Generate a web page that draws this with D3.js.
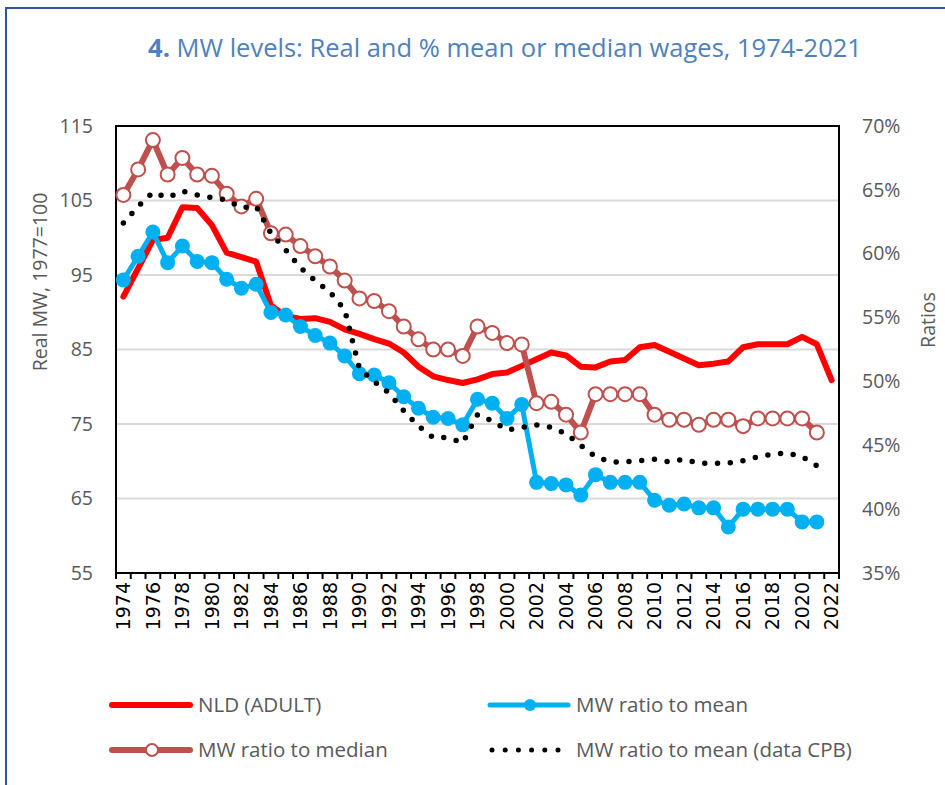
<!doctype html>
<html>
  <head>
    <meta charset="utf-8">
    <title>MW levels</title>
    <script src="https://d3js.org/d3.v7.min.js"></script>
    <style type="text/css">
      body { margin: 0; background-color: #ffffff; }
      text { font-family: "Open Sans", sans-serif; fill: #595959; }
    </style>
  </head>
  <body>
    <script>
      // data
      var years = d3.range(1974, 2023);
      var yearLabels = d3.range(1974, 2023, 2);
      var leftTicks = [55, 65, 75, 85, 95, 105, 115];
      var rightTicks = [35, 40, 45, 50, 55, 60, 65, 70];

      // real MW, 1977=100 (left axis)
      var nld = [92.1, 95.9, 99.7, 100.0, 104.1, 104.0, 101.7, 98.0, 97.4, 96.8,
        90.9, 89.5, 89.1, 89.2, 88.7, 87.7, 87.1, 86.4, 85.8, 84.6,
        82.7, 81.4, 80.9, 80.5, 81.0, 81.7, 81.9, 82.8, 83.7, 84.6,
        84.2, 82.7, 82.6, 83.4, 83.6, 85.3, 85.6, 84.7, 83.8, 82.9,
        83.1, 83.4, 85.3, 85.7, 85.7, 85.7, 86.7, 85.7, 80.9];

      // ratios in % (right axis)
      var toMean = [57.95, 59.8, 61.7, 59.3, 60.6, 59.4, 59.3, 58.0, 57.3, 57.6,
        55.4, 55.2, 54.3, 53.6, 53.0, 52.0, 50.6, 50.5, 49.9, 48.8,
        47.9, 47.2, 47.1, 46.6, 48.6, 48.3, 47.1, 48.2, 42.1, 42.0,
        41.9, 41.1, 42.7, 42.1, 42.1, 42.1, 40.7, 40.3, 40.4, 40.1,
        40.1, 38.6, 40.0, 40.0, 40.0, 40.0, 39.0, 39.0, null];

      var toMedian = [64.6, 66.6, 68.9, 66.2, 67.5, 66.2, 66.1, 64.7, 63.7, 64.3,
        61.6, 61.5, 60.6, 59.8, 59.0, 57.9, 56.5, 56.3, 55.5, 54.3,
        53.3, 52.5, 52.5, 52.0, 54.3, 53.8, 53.0, 52.9, 48.3, 48.4,
        47.4, 46.0, 49.0, 49.0, 49.0, 49.0, 47.4, 47.0, 47.0, 46.6,
        47.0, 47.0, 46.5, 47.1, 47.1, 47.1, 47.1, 46.0, null];

      var toMeanCPB = [62.4, 63.7, 64.8, 64.4, 64.9, 64.6, 64.4, 64.2, 63.6, 63.7,
        61.6, 60.3, 58.9, 57.9, 57.0, 55.6, 51.0, 50.0, 49.1, 47.7,
        46.5, 45.6, 45.6, 45.2, 47.4, 46.9, 46.2, 46.4, 46.6, 46.4,
        45.9, 45.0, 44.1, 43.7, 43.7, 43.8, 43.9, 43.7, 43.9, 43.6,
        43.6, 43.6, 43.8, 44.1, 44.3, 44.4, 44.1, 43.4, null];

      var seriesNames = ["NLD (ADULT)", "MW ratio to mean", "MW ratio to median", "MW ratio to mean (data CPB)"];

      var w = 945, h = 785;
      var pL = 116, pR = 839, pT = 126, pB = 573;

      var svg = d3.select("body").append("svg")
        .attr("width", w)
        .attr("height", h);

      // outer frame
      svg.append("rect")
        .attr("x", 6).attr("y", 8)
        .attr("width", w + 20).attr("height", h + 20)
        .style("fill", "none")
        .style("stroke", "#2f5597")
        .style("stroke-width", 2);

      // title
      var title = svg.append("text")
        .attr("x", 505).attr("y", 57)
        .attr("text-anchor", "middle")
        .style("font-size", "25.5px")
        .style("fill", "#4f81bd");
      title.append("tspan").style("font-weight", "bold").style("fill", "#4f81bd").text("4.");
      title.append("tspan").style("fill", "#4f81bd").text(" MW levels: Real and % mean or median wages, 1974-2021");

      // scales
      var x = d3.scaleBand().domain(years).range([pL, pR]).padding(0);
      var yL = d3.scaleLinear().domain([55, 115]).range([pB, pT]);
      var yR = d3.scaleLinear().domain([35, 70]).range([pB, pT]);
      var cx = function(i) { return x(years[i]) + x.bandwidth() / 2; };

      // gridlines
      svg.append("g").selectAll("line")
        .data(leftTicks.slice(1, -1))
        .enter().append("line")
        .attr("x1", pL).attr("x2", pR)
        .attr("y1", function(d) { return yL(d); })
        .attr("y2", function(d) { return yL(d); })
        .style("stroke", "#d9d9d9")
        .style("stroke-width", 2);

      // left axis
      var gL = svg.append("g")
        .attr("transform", "translate(" + pL + ",0)")
        .call(d3.axisLeft(yL).tickValues(leftTicks).tickSize(0).tickPadding(23));
      gL.select(".domain").remove();
      gL.selectAll("text").style("font-size", "19.5px").style("fill", "#595959")
        .style("font-family", "'Open Sans', sans-serif");

      // right axis
      var gR = svg.append("g")
        .attr("transform", "translate(" + pR + ",0)")
        .call(d3.axisRight(yR).tickValues(rightTicks).tickSize(0).tickPadding(23)
          .tickFormat(function(d) { return d + "%"; }));
      gR.select(".domain").remove();
      gR.selectAll("text").style("font-size", "19.5px").style("fill", "#595959")
        .style("font-family", "'Open Sans', sans-serif");

      // bottom axis, ticks between years
      svg.append("g").selectAll("line")
        .data(years.concat([2023]))
        .enter().append("line")
        .attr("x1", function(d, i) { return pL + i * x.step(); })
        .attr("x2", function(d, i) { return pL + i * x.step(); })
        .attr("y1", pB).attr("y2", pB + 6)
        .style("stroke", "#000")
        .style("stroke-width", 2);

      var gX = svg.append("g")
        .attr("transform", "translate(0," + pB + ")")
        .call(d3.axisBottom(x).tickValues(yearLabels).tickSize(0));
      gX.select(".domain").remove();
      gX.selectAll("text")
        .attr("transform", "rotate(-90)")
        .attr("x", -9).attr("y", 0).attr("dy", "0.35em")
        .style("text-anchor", "end")
        .style("font-family", "'DejaVu Sans', sans-serif")
        .style("font-size", "19px")
        .style("fill", "#000");

      // plot frame
      svg.append("rect")
        .attr("x", pL).attr("y", pT)
        .attr("width", pR - pL).attr("height", pB - pT)
        .style("fill", "none")
        .style("stroke", "#000")
        .style("stroke-width", 2);

      // axis titles
      svg.append("text")
        .attr("transform", "translate(47,282) rotate(-90)")
        .attr("text-anchor", "middle")
        .style("font-size", "19.5px")
        .text("Real MW, 1977=100");
      svg.append("text")
        .attr("transform", "translate(935,320) rotate(-90)")
        .attr("text-anchor", "middle")
        .style("font-size", "19.5px")
        .text("Ratios");

      // lines
      var lineL = d3.line()
        .defined(function(d) { return d != null; })
        .x(function(d, i) { return cx(i); })
        .y(function(d) { return yL(d); });
      var lineR = d3.line()
        .defined(function(d) { return d != null; })
        .x(function(d, i) { return cx(i); })
        .y(function(d) { return yR(d); });

      svg.append("path").datum(nld)
        .attr("d", lineL)
        .style("fill", "none").style("stroke", "#ff0000")
        .style("stroke-width", 6).style("stroke-linejoin", "round").style("stroke-linecap", "round");

      svg.append("path").datum(toMean)
        .attr("d", lineR)
        .style("fill", "none").style("stroke", "#00b0f0")
        .style("stroke-width", 5).style("stroke-linejoin", "round");
      svg.append("g").selectAll("circle")
        .data(toMean.map(function(d, i) { return [i, d]; }).filter(function(d) { return d[1] != null; }))
        .enter().append("circle")
        .attr("cx", function(d) { return cx(d[0]); })
        .attr("cy", function(d) { return yR(d[1]); })
        .attr("r", 7.5)
        .style("fill", "#00b0f0");

      svg.append("path").datum(toMedian)
        .attr("d", lineR)
        .style("fill", "none").style("stroke", "#c0504d")
        .style("stroke-width", 6).style("stroke-linejoin", "round");
      svg.append("g").selectAll("circle")
        .data(toMedian.map(function(d, i) { return [i, d]; }).filter(function(d) { return d[1] != null; }))
        .enter().append("circle")
        .attr("cx", function(d) { return cx(d[0]); })
        .attr("cy", function(d) { return yR(d[1]); })
        .attr("r", 7)
        .style("fill", "#ffffff")
        .style("stroke", "#c0504d")
        .style("stroke-width", 2);

      svg.append("path").datum(toMeanCPB)
        .attr("d", lineR)
        .style("fill", "none").style("stroke", "#000")
        .style("stroke-width", 5.5).style("stroke-linecap", "round")
        .style("stroke-dasharray", "0 12.8");

      // legend
      var leg = svg.append("g");
      var legPos = [[112, 705], [490, 705], [112, 750], [490, 750]];

      leg.append("line")
        .attr("x1", legPos[0][0]).attr("x2", legPos[0][0] + 78)
        .attr("y1", legPos[0][1]).attr("y2", legPos[0][1])
        .style("stroke", "#ff0000").style("stroke-width", 6).style("stroke-linecap", "round");

      leg.append("line")
        .attr("x1", legPos[1][0]).attr("x2", legPos[1][0] + 78)
        .attr("y1", legPos[1][1]).attr("y2", legPos[1][1])
        .style("stroke", "#00b0f0").style("stroke-width", 5).style("stroke-linecap", "round");
      leg.append("circle")
        .attr("cx", legPos[1][0] + 40).attr("cy", legPos[1][1]).attr("r", 6)
        .style("fill", "#00b0f0");

      leg.append("line")
        .attr("x1", legPos[2][0]).attr("x2", legPos[2][0] + 78)
        .attr("y1", legPos[2][1]).attr("y2", legPos[2][1])
        .style("stroke", "#c0504d").style("stroke-width", 6).style("stroke-linecap", "round");
      leg.append("circle")
        .attr("cx", legPos[2][0] + 40).attr("cy", legPos[2][1]).attr("r", 6)
        .style("fill", "#fff").style("stroke", "#c0504d").style("stroke-width", 2);

      leg.append("line")
        .attr("x1", legPos[3][0] + 2).attr("x2", legPos[3][0] + 70)
        .attr("y1", legPos[3][1]).attr("y2", legPos[3][1])
        .style("stroke", "#000").style("stroke-width", 5).style("stroke-linecap", "round")
        .style("stroke-dasharray", "0 13.2");

      leg.selectAll("text")
        .data(seriesNames)
        .enter().append("text")
        .attr("x", function(d, i) { return legPos[i][0] + 86; })
        .attr("y", function(d, i) { return legPos[i][1] + 7; })
        .style("font-size", "20.5px")
        .text(function(d) { return d; });
    </script>
  </body>
</html>
